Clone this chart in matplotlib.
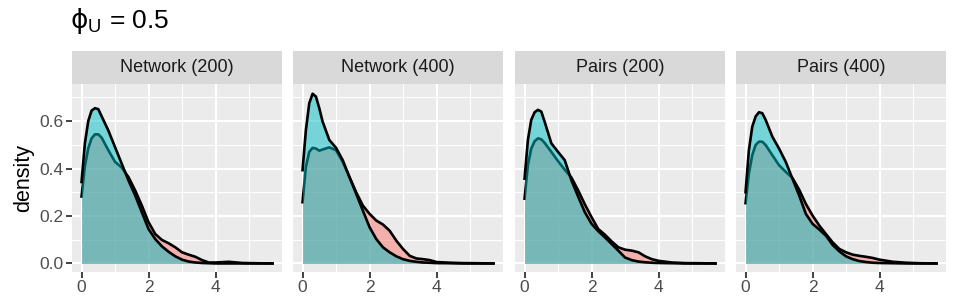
import numpy as np
import matplotlib
matplotlib.use("Agg")
from matplotlib import pyplot as plt

plt.rcParams['font.family'] = ['Liberation Sans', 'DejaVu Sans']
plt.rcParams['mathtext.fontset'] = 'dejavusans'

# x grid the densities were read at
x = [0, 0.1, 0.2, 0.3, 0.4, 0.5, 0.6, 0.8, 1.0, 1.2, 1.4, 1.6, 1.8, 2.0,
     2.2, 2.4, 2.6, 2.8, 3.0, 3.2, 3.4, 3.6, 3.8, 4.0, 4.4, 4.8, 5.2, 5.7]

panels = ['Network (200)', 'Network (400)', 'Pairs (200)', 'Pairs (400)']

# group 1 (red) densities
net200_red = [0.282, 0.41, 0.485, 0.527, 0.544, 0.544, 0.53, 0.477, 0.428, 0.404,
              0.364, 0.308, 0.244, 0.174, 0.124, 0.099, 0.085, 0.068, 0.047, 0.037,
              0.028, 0.014, 0.004, 0.004, 0.007, 0.002, 0.001, 0.0]
net400_red = [0.258, 0.407, 0.47, 0.487, 0.484, 0.475, 0.48, 0.489, 0.477, 0.428,
              0.364, 0.30, 0.244, 0.209, 0.181, 0.164, 0.138, 0.096, 0.061, 0.032,
              0.021, 0.018, 0.014, 0.006, 0.003, 0.0015, 0.001, 0.0]
pairs200_red = [0.273, 0.414, 0.484, 0.515, 0.527, 0.523, 0.508, 0.47, 0.431, 0.395,
                0.362, 0.308, 0.249, 0.195, 0.145, 0.121, 0.093, 0.068, 0.058, 0.054,
                0.047, 0.03, 0.018, 0.011, 0.004, 0.0015, 0.001, 0.0]
pairs400_red = [0.254, 0.379, 0.456, 0.499, 0.513, 0.513, 0.499, 0.456, 0.414, 0.386,
                0.36, 0.311, 0.251, 0.202, 0.16, 0.124, 0.089, 0.061, 0.047, 0.037,
                0.032, 0.028, 0.023, 0.016, 0.007, 0.003, 0.001, 0.0]

# group 2 (teal) densities
net200_teal = [0.343, 0.506, 0.60, 0.644, 0.654, 0.65, 0.62, 0.56, 0.49, 0.42,
               0.35, 0.287, 0.216, 0.145, 0.103, 0.072, 0.049, 0.03, 0.016, 0.008,
               0.004, 0.002, 0.001, 0.0, 0.0, 0.0, 0.0, 0.0]
net400_teal = [0.393, 0.562, 0.675, 0.715, 0.703, 0.654, 0.597, 0.52, 0.487, 0.435,
               0.364, 0.294, 0.223, 0.153, 0.103, 0.068, 0.047, 0.03, 0.018, 0.011,
               0.007, 0.004, 0.003, 0.0015, 0.001, 0.0, 0.0, 0.0]
pairs200_teal = [0.357, 0.52, 0.605, 0.637, 0.647, 0.64, 0.597, 0.506, 0.47, 0.435,
                 0.35, 0.282, 0.216, 0.167, 0.136, 0.11, 0.082, 0.054, 0.025, 0.014,
                 0.008, 0.005, 0.003, 0.002, 0.001, 0.0, 0.0, 0.0]
pairs400_teal = [0.30, 0.477, 0.576, 0.619, 0.637, 0.633, 0.605, 0.534, 0.484, 0.428,
                 0.357, 0.287, 0.209, 0.167, 0.143, 0.117, 0.078, 0.051, 0.03, 0.018,
                 0.01, 0.006, 0.003, 0.002, 0.001, 0.0, 0.0, 0.0]

red_series = [net200_red, net400_red, pairs200_red, pairs400_red]
teal_series = [net200_teal, net400_teal, pairs200_teal, pairs400_teal]

x_ticks = [0, 2, 4]
y_ticks = [0.0, 0.2, 0.4, 0.6]

fig = plt.figure(figsize=(9.57, 3.0), dpi=100)
W, H = 957.0, 300.0

lefts = [72, 293, 515, 736]
pw = 210
top_px, bot_px = 84, 272
strip_top = 51

for i, name in enumerate(panels):
    ax = fig.add_axes([lefts[i] / W, 1 - bot_px / H, pw / W, (bot_px - top_px) / H])
    ax.set_facecolor('#EBEBEB')
    # red group first, teal drawn on top (fill covers red outline)
    ax.fill_between(x, red_series[i], color='#F8766D', alpha=0.5, linewidth=0, zorder=2)
    ax.plot(x, red_series[i], color='black', lw=1.9, solid_joinstyle='round', zorder=3)
    ax.fill_between(x, teal_series[i], color='#00BFC4', alpha=0.5, linewidth=0, zorder=4)
    ax.plot(x, teal_series[i], color='black', lw=1.9, solid_joinstyle='round', zorder=5)

    ax.set_xlim(-0.285, 5.985)
    ax.set_ylim(-0.036, 0.756)
    ax.set_xticks(x_ticks)
    ax.set_xticks([1, 3, 5], minor=True)
    ax.set_yticks(y_ticks)
    ax.set_yticks([0.1, 0.3, 0.5, 0.7], minor=True)
    ax.grid(True, which='major', color='white', lw=1.5, zorder=0)
    ax.grid(True, which='minor', color='white', lw=0.75, zorder=0)
    ax.set_axisbelow(True)
    for s in ax.spines.values():
        s.set_visible(False)
    ax.tick_params(which='minor', length=0)
    ax.tick_params(which='major', length=4, width=1.3, color='#333333',
                   labelcolor='#4D4D4D', labelsize=12.5, pad=2)
    ax.set_xticklabels(['0', '2', '4'])
    if i == 0:
        ax.set_yticklabels(['0.0', '0.2', '0.4', '0.6'])
        ax.set_ylabel('density', fontsize=15.5, color='black', labelpad=4)
    else:
        ax.tick_params(axis='y', which='both', left=False, labelleft=False)

    sax = fig.add_axes([lefts[i] / W, 1 - top_px / H, pw / W, (top_px - strip_top) / H])
    sax.set_facecolor('#D9D9D9')
    sax.set_xticks([])
    sax.set_yticks([])
    for s in sax.spines.values():
        s.set_visible(False)
    sax.text(0.5, 0.5, name, ha='center', va='center', fontsize=13,
             color='#1A1A1A', transform=sax.transAxes)

fig.text(70 / W, 1 - 28 / H, r'$\mathrm{\phi}_{\mathregular{U}}$ = 0.5', fontsize=19,
         ha='left', va='baseline', color='black')

plt.savefig('out.png', dpi=100)
